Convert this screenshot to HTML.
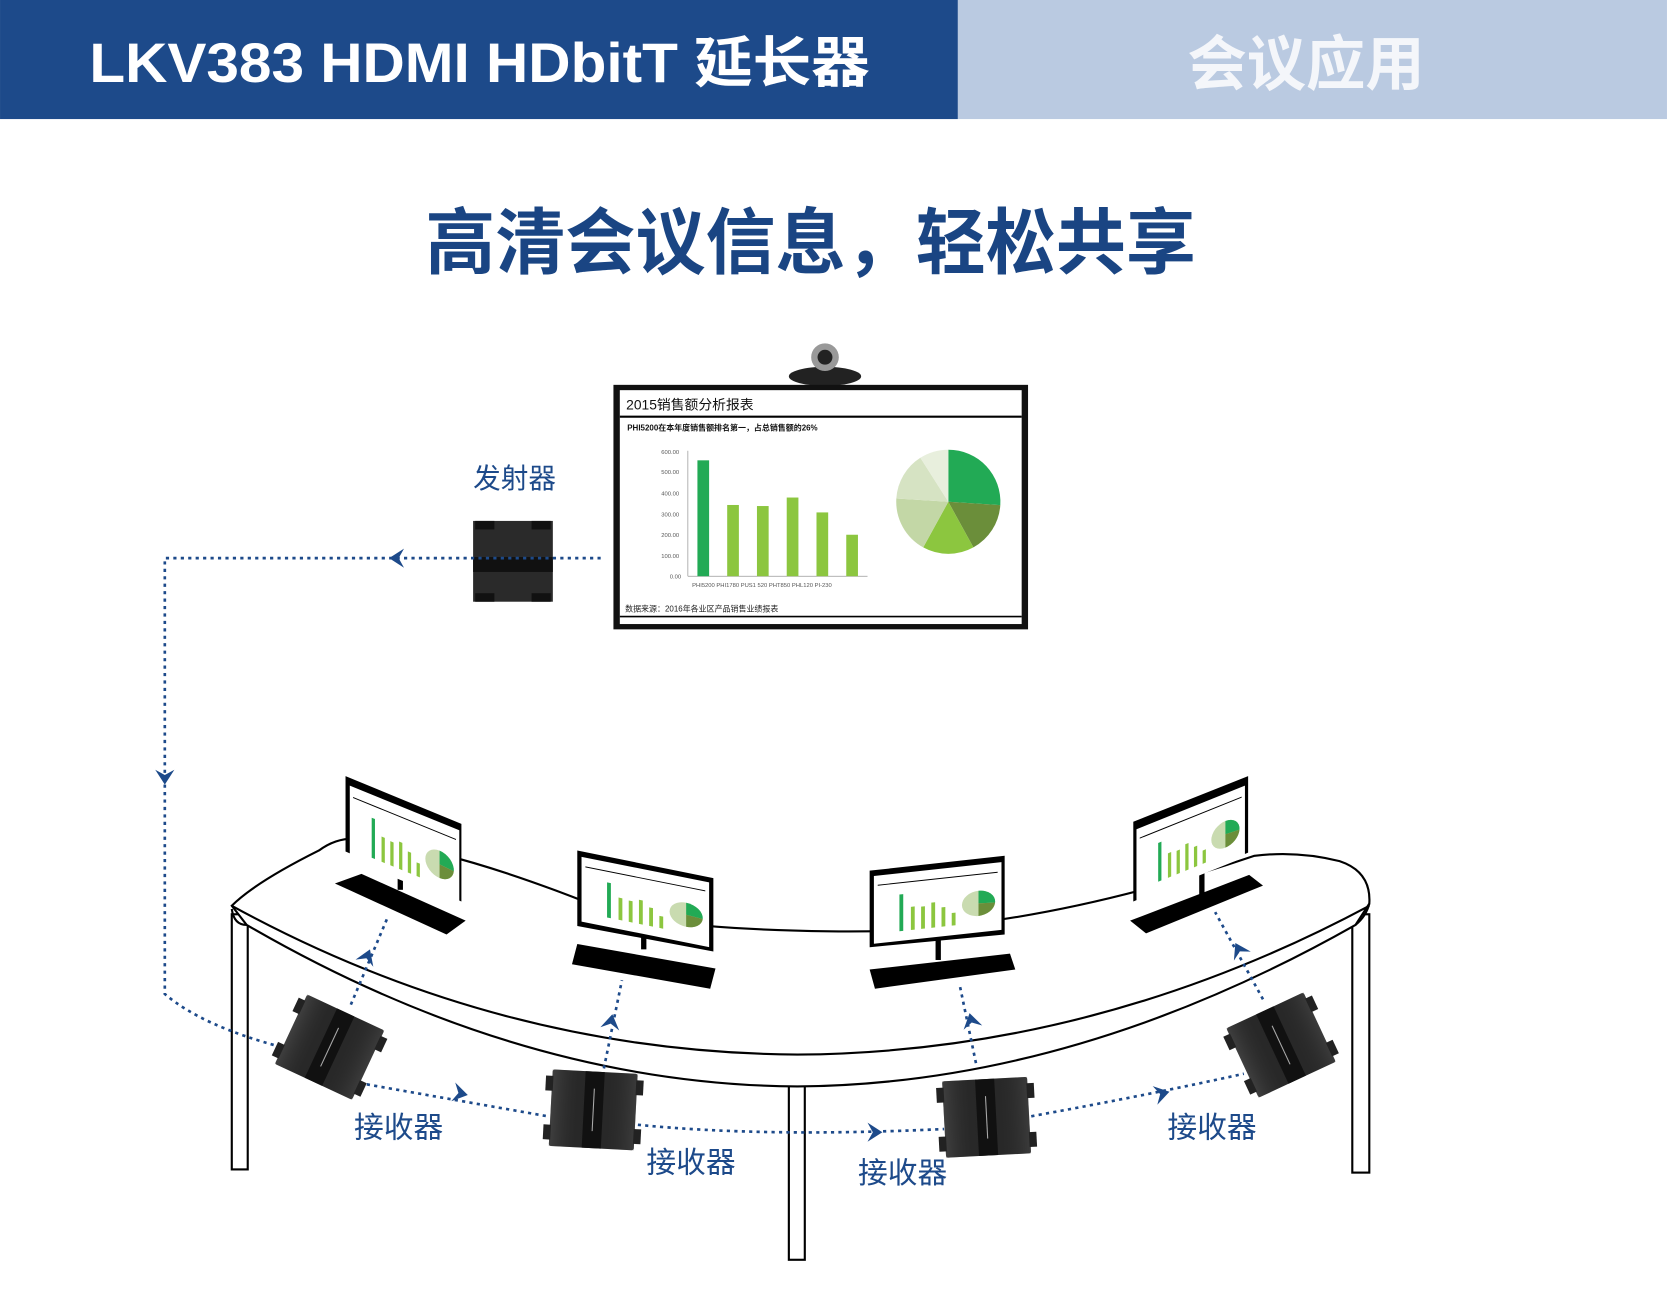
<!DOCTYPE html>
<html><head><meta charset="utf-8"><style>
html,body{margin:0;padding:0;background:#fff;}
svg{display:block;}
text{font-family:"Liberation Sans","Noto Sans CJK SC",sans-serif;}
</style></head><body>
<svg width="1667" height="1314" viewBox="0 0 1568 1236" xmlns="http://www.w3.org/2000/svg">
<defs>
<g id="arr"><path d="M0,0 L-14,-9 L-9,0 L-14,9 Z" fill="#1d4a8a"/></g>
<g id="rcv">
<rect x="-40" y="-36" width="80" height="72" rx="2" fill="#2a2a2a"/>
<rect x="-40" y="-36" width="80" height="72" fill="url(#rg)"/>
<rect x="-9" y="-36" width="18" height="72" fill="#111"/>
<rect x="-46" y="-30" width="7" height="14" fill="#222"/><rect x="-46" y="16" width="7" height="14" fill="#222"/>
<rect x="39" y="-30" width="7" height="14" fill="#222"/><rect x="39" y="16" width="7" height="14" fill="#222"/>
<line x1="0" y1="-20" x2="0" y2="20" stroke="#aaa" stroke-width="1"/>
</g>
<linearGradient id="rg" x1="0" x2="1"><stop offset="0" stop-color="#555" stop-opacity=".5"/><stop offset=".5" stop-color="#000" stop-opacity="0"/><stop offset="1" stop-color="#555" stop-opacity=".4"/></linearGradient>
<g id="mini">
<rect x="0" y="0" width="100" height="70" fill="#fff"/>
<line x1="3" y1="10" x2="97" y2="10" stroke="#000" stroke-width="1"/>
<rect x="20" y="22" width="3" height="38" fill="#22aa55"/>
<rect x="29" y="36" width="3" height="24" fill="#8cc63f"/>
<rect x="37" y="37" width="3" height="23" fill="#8cc63f"/>
<rect x="45" y="34" width="3" height="26" fill="#8cc63f"/>
<rect x="53" y="40" width="3" height="20" fill="#8cc63f"/>
<rect x="61" y="47" width="3" height="13" fill="#8cc63f"/>
<circle cx="82" cy="40" r="13" fill="#c9dbb0"/>
<path d="M82,40 L82,27 A13,13 0 0 1 95,41 Z" fill="#22aa55"/>
<path d="M82,40 L95,41 A13,13 0 0 1 82,53 Z" fill="#6b8e3a"/>
</g>
</defs>

<rect x="0" y="0" width="901" height="112" fill="#1d4a8a"/>
<rect x="901" y="0" width="667" height="112" fill="#bacae1"/>
<text x="84" y="77" font-size="52" font-weight="bold" fill="#fff" textLength="734" lengthAdjust="spacingAndGlyphs">LKV383 HDMI HDbitT 延长器</text>
<text x="1117" y="80" font-size="56" font-weight="bold" fill="#f4f6fa" textLength="223" lengthAdjust="spacingAndGlyphs">会议应用</text>

<text x="400" y="252" font-size="68" font-weight="bold" fill="#1a4583" textLength="725" lengthAdjust="spacingAndGlyphs">高清会议信息，轻松共享</text>

<ellipse cx="776" cy="354" rx="34" ry="9" fill="#222"/>
<circle cx="776" cy="336" r="13" fill="#999"/><circle cx="776" cy="336" r="7" fill="#222"/>
<rect x="577" y="362" width="390" height="230" fill="#111"/>
<rect x="583" y="367" width="378" height="220" fill="#fff"/>
<text x="589" y="385" font-size="13" fill="#111">2015销售额分析报表</text>
<line x1="583" y1="392" x2="961" y2="392" stroke="#000" stroke-width="2"/>
<text x="590" y="405" font-size="7.5" font-weight="bold" fill="#111">PHI5200在本年度销售额排名第一，占总销售额的26%</text>
<line x1="647" y1="424" x2="647" y2="542" stroke="#999" stroke-width="0.7"/>
<line x1="647" y1="542" x2="816" y2="542" stroke="#999" stroke-width="0.7"/>
<g font-size="5.5" fill="#555">
<text x="622" y="427">600.00</text><text x="622" y="446">500.00</text><text x="622" y="466">400.00</text><text x="622" y="486">300.00</text><text x="622" y="505">200.00</text><text x="622" y="525">100.00</text><text x="630" y="544">0.00</text>
<text x="651" y="552">PHI5200 PHI1780 PUS1 520 PHT850 PHL120 PI-230</text>
</g>
<rect x="656" y="433" width="11" height="109" fill="#22aa55"/>
<rect x="684" y="475" width="11" height="67" fill="#8cc63f"/>
<rect x="712" y="476" width="11" height="66" fill="#8cc63f"/>
<rect x="740" y="468" width="11" height="74" fill="#8cc63f"/>
<rect x="768" y="482" width="11" height="60" fill="#8cc63f"/>
<rect x="796" y="503" width="11" height="39" fill="#8cc63f"/>
<path d="M892,472 L892,423 A49,49 0 0 1 940.9,475.1 Z" fill="#22aa55"/>
<path d="M892,472 L940.9,475.1 A49,49 0 0 1 915.6,514.9 Z" fill="#6b8e3a"/>
<path d="M892,472 L915.6,514.9 A49,49 0 0 1 868.4,514.9 Z" fill="#8cc63f"/>
<path d="M892,472 L868.4,514.9 A49,49 0 0 1 843.1,468.9 Z" fill="#c3d7a6"/>
<path d="M892,472 L843.1,468.9 A49,49 0 0 1 865.7,430.6 Z" fill="#d6e3c3"/>
<path d="M892,472 L865.7,430.6 A49,49 0 0 1 892,423 Z" fill="#e8efdd"/>
<text x="588" y="575" font-size="7.5" fill="#222">数据来源：2016年各业区产品销售业绩报表</text>
<line x1="583" y1="580" x2="961" y2="580" stroke="#000" stroke-width="1.5"/>

<text x="445" y="459" font-size="26" fill="#1d4a8a">发射器</text>
<rect x="445" y="490" width="75" height="76" fill="#2a2a2a"/>
<rect x="445" y="524" width="75" height="14" fill="#111"/>
<rect x="447" y="490" width="18" height="8" fill="#111"/><rect x="500" y="490" width="18" height="8" fill="#111"/>
<rect x="447" y="558" width="18" height="8" fill="#111"/><rect x="500" y="558" width="18" height="8" fill="#111"/>

<g fill="#fff" stroke="#000" stroke-width="2">
<rect x="218" y="860" width="15" height="240"/>
<rect x="742" y="1010" width="15" height="175"/>
<rect x="1272" y="860" width="16" height="243"/>
<path d="M232,870 Q490,1020 750,1022 Q1010,1020 1275,870 L1288,850 Q1290,820 1260,810 Q1220,800 1180,805 Q960,880 780,876 Q620,874 560,852 Q430,800 345,790 Q320,785 300,800 Q240,830 218,852 Z"/>
<path d="M218,855 Q220,870 232,870 M1288,850 Q1285,862 1275,870" fill="none"/>
<path d="M218,852 Q470,990 750,992 Q1030,990 1288,852" fill="none"/>
</g>

<g>
<polygon points="315,831 340,822 438,866 420,879" fill="#000"/>
<rect x="374" y="815" width="5" height="22" fill="#000"/>
<polygon points="325,730 434,775 434,848 325,801" fill="#000"/>
<use href="#mini" transform="matrix(1.03,0.42,0,0.99,329,739)" />

<polygon points="543,888 673,911 668,930 538,907" fill="#000"/>
<rect x="603" y="868" width="5" height="25" fill="#000"/>
<polygon points="543,800 671,826 671,895 543,871" fill="#000"/>
<use href="#mini" transform="matrix(1.2,0.24,0,0.87,547,806)" />

<polygon points="818,912 950,897 955,912 823,930" fill="#000"/>
<rect x="880" y="875" width="5" height="28" fill="#000"/>
<polygon points="818,819 945,805 945,879 818,891" fill="#000"/>
<use href="#mini" transform="matrix(1.2,-0.13,0,0.91,822,824)" />

<polygon points="1063,866 1175,823 1188,833 1078,878" fill="#000"/>
<rect x="1128" y="820" width="5" height="28" fill="#000"/>
<polygon points="1066,773 1174,730 1174,802 1066,848" fill="#000"/>
<use href="#mini" transform="matrix(1.02,-0.41,0,0.96,1069,780)" />
</g>

<g fill="none" stroke="#1d4a8a" stroke-width="2.5" stroke-dasharray="3,4">
<path d="M565,525 L155,525 L155,935 Q190,965 265,985"/>
<path d="M345,1020 Q430,1035 515,1050"/>
<path d="M600,1058 Q720,1070 888,1062"/>
<path d="M970,1050 Q1080,1030 1170,1010"/>
<path d="M330,945 L365,862"/>
<path d="M568,1005 L585,922"/>
<path d="M918,1000 L903,928"/>
<path d="M1188,940 L1143,858"/>
</g>
<use href="#arr" transform="translate(366,525) rotate(180)"/>
<use href="#arr" transform="translate(155,738) rotate(90)"/>
<use href="#arr" transform="translate(440,1030) rotate(12)"/>
<use href="#arr" transform="translate(830,1065) rotate(0)"/>
<use href="#arr" transform="translate(1100,1027) rotate(-14)"/>
<use href="#arr" transform="translate(348,893) rotate(-68)"/>
<use href="#arr" transform="translate(576,954) rotate(-80)"/>
<use href="#arr" transform="translate(912,953) rotate(-103)"/>
<use href="#arr" transform="translate(1162,887) rotate(-118)"/>

<use href="#rcv" transform="translate(310,985) rotate(25)"/>
<use href="#rcv" transform="translate(558,1044) rotate(3)"/>
<use href="#rcv" transform="translate(928,1051) rotate(-3)"/>
<use href="#rcv" transform="translate(1205,983) rotate(-25)"/>

<g font-size="28" fill="#1d4a8a" text-anchor="middle">
<text x="375" y="1070">接收器</text>
<text x="650" y="1103">接收器</text>
<text x="849" y="1113">接收器</text>
<text x="1140" y="1070">接收器</text>
</g>
</svg>
</body></html>
